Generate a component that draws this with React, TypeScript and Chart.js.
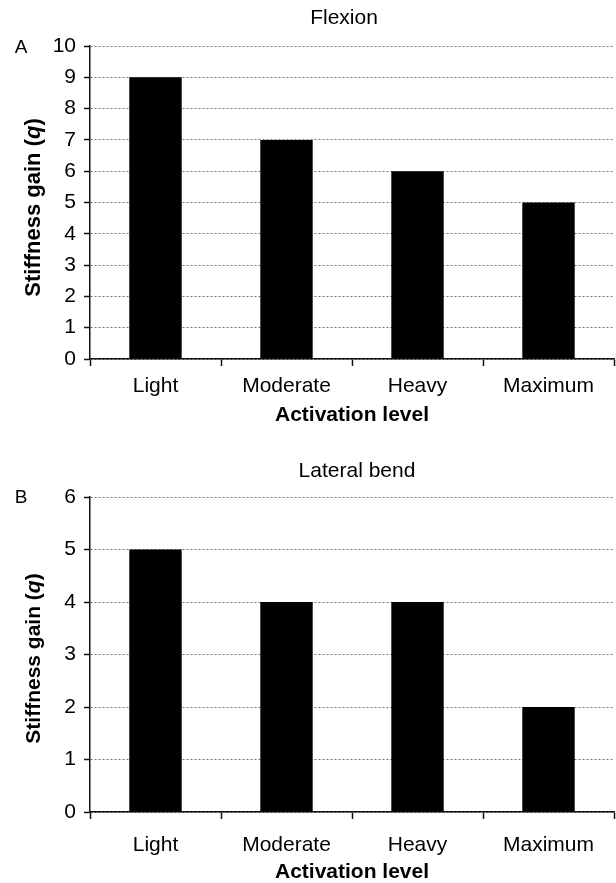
import React, { useEffect, useRef } from "react";
import { Chart, registerables } from "chart.js";

Chart.register(...registerables);

const categories = ["Light", "Moderate", "Heavy", "Maximum"];
const flexionValues = [9, 7, 6, 5];
const lateralValues = [5, 4, 4, 2];
const flexionMax = 10;
const lateralMax = 6;
const xAxisTitle = "Activation level";
const yAxisTitleParts = ["Stiffness gain (", "q", ")"];

const FONT = '"Liberation Sans", Arial, Helvetica, sans-serif';

type PanelCfg = {
  letter: string;
  title: string;
  values: number[];
  max: number;
  height: number;
  padTop: number;
  xHeight: number;
  tickPad: number;
  xTitlePad: number;
  titleX: number;
  titleY: number;
  letterDy: number;
  yTitleShift: number;
  yTitleSize: number;
};

const panels: PanelCfg[] = [
  {
    letter: "A",
    title: "Flexion",
    values: flexionValues,
    max: flexionMax,
    height: 441,
    padTop: 46,
    xHeight: 82,
    tickPad: 8,
    xTitlePad: 15,
    titleX: 344,
    titleY: 18,
    letterDy: 2,
    yTitleShift: 5,
    yTitleSize: 22,
  },
  {
    letter: "B",
    title: "Lateral bend",
    values: lateralValues,
    max: lateralMax,
    height: 442,
    padTop: 56,
    xHeight: 71,
    tickPad: 14,
    xTitlePad: 0,
    titleX: 357,
    titleY: 30,
    letterDy: 1,
    yTitleShift: 4,
    yTitleSize: 21,
  },
];

function makeTextPlugin(cfg: PanelCfg) {
  return {
    id: "panelText" + cfg.letter,
    afterDraw(chart: any) {
      const ctx: CanvasRenderingContext2D = chart.ctx;
      const area = chart.chartArea;
      ctx.save();
      ctx.fillStyle = "#000";
      ctx.textBaseline = "middle";
      ctx.textAlign = "center";
      ctx.font = `19px ${FONT}`;
      ctx.fillText(cfg.letter, 21, area.top + cfg.letterDy);
      ctx.font = `21px ${FONT}`;
      ctx.fillText(cfg.title, cfg.titleX, cfg.titleY);

      const s = cfg.yTitleSize;
      const fonts = [`bold ${s}px ${FONT}`, `italic bold ${s}px ${FONT}`, `bold ${s}px ${FONT}`];
      let total = 0;
      const widths = yAxisTitleParts.map((t, i) => {
        ctx.font = fonts[i];
        const w = ctx.measureText(t).width;
        total += w;
        return w;
      });
      ctx.translate(34, (area.top + area.bottom) / 2 + cfg.yTitleShift);
      ctx.rotate(-Math.PI / 2);
      ctx.textAlign = "left";
      let x = -total / 2;
      yAxisTitleParts.forEach((t, i) => {
        ctx.font = fonts[i];
        ctx.fillText(t, x, 0);
        x += widths[i];
      });
      ctx.restore();
    },
  };
}

function Panel({ cfg }: { cfg: PanelCfg }) {
  const ref = useRef<HTMLCanvasElement | null>(null);
  useEffect(() => {
    if (!ref.current) return;
    const chart = new Chart(ref.current, {
      type: "bar",
      data: {
        labels: categories,
        datasets: [
          {
            data: cfg.values,
            backgroundColor: "#000",
            borderWidth: 0,
            categoryPercentage: 1,
            barPercentage: 0.4,
          },
        ],
      },
      options: {
        responsive: false,
        animation: false,
        events: [],
        layout: { padding: { top: cfg.padTop, right: 2, left: 0, bottom: 0 } },
        plugins: {
          legend: { display: false },
          title: { display: false },
          tooltip: { enabled: false },
        },
        scales: {
          x: {
            offset: true,
            afterFit: (s: any) => {
              s.height = cfg.xHeight;
            },
            grid: {
              display: true,
              offset: true,
              drawOnChartArea: false,
              drawTicks: true,
              tickLength: 7,
              tickColor: "#111",
              tickWidth: 1.5,
            },
            border: { display: true, color: "#111", width: 1.5 },
            ticks: {
              color: "#000",
              padding: cfg.tickPad,
              font: { family: FONT, size: 21 },
            },
            title: {
              display: true,
              text: xAxisTitle,
              color: "#000",
              padding: { top: 0, bottom: cfg.xTitlePad },
              font: { family: FONT, size: 21, weight: "bold", lineHeight: 1 },
            },
          },
          y: {
            min: 0,
            max: cfg.max,
            afterFit: (s: any) => {
              s.width = 90;
            },
            grid: {
              display: true,
              color: "#777",
              lineWidth: 1,
              drawTicks: true,
              tickLength: 6,
              tickColor: "#111",
              tickWidth: 1.5,
              tickBorderDash: [],
            },
            border: { display: true, color: "#111", width: 1.5, dash: [2, 2] },
            ticks: {
              stepSize: 1,
              color: "#000",
              padding: 8,
              font: { family: FONT, size: 21 },
            },
          },
        },
      },
      plugins: [makeTextPlugin(cfg)],
    } as any);
    return () => chart.destroy();
  }, [cfg]);
  return (
    <canvas
      ref={ref}
      width={616}
      height={cfg.height}
      style={{ display: "block", width: 616, height: cfg.height }}
    />
  );
}

export default function App() {
  return (
    <div
      style={{
        position: "absolute",
        left: 0,
        top: 0,
        width: 616,
        height: 883,
        background: "#fff",
      }}
    >
      {panels.map((p) => (
        <Panel key={p.letter} cfg={p} />
      ))}
    </div>
  );
}
